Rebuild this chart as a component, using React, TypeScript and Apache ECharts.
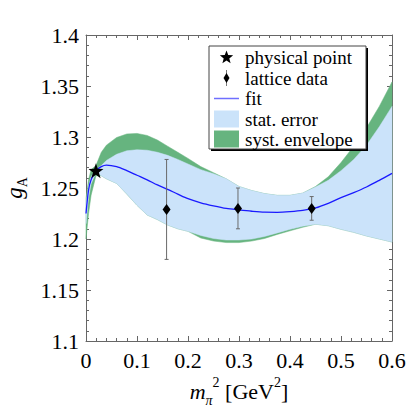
import React, { useEffect, useRef } from 'react';
import * as echarts from 'echarts';

// x grid (m_pi^2 in GeV^2) for the fitted curve and bands
const xs = [0, 0.005, 0.01, 0.0195, 0.03, 0.04, 0.06, 0.08, 0.1, 0.12, 0.14, 0.16, 0.18, 0.2, 0.225, 0.25, 0.275, 0.3, 0.325, 0.35, 0.375, 0.4, 0.425, 0.45, 0.475, 0.5, 0.525, 0.55, 0.575, 0.6];
const fit = [1.225, 1.248, 1.258, 1.267, 1.271, 1.2725, 1.271, 1.267, 1.2625, 1.258, 1.253, 1.2487, 1.244, 1.2395, 1.2355, 1.2325, 1.23, 1.2285, 1.2272, 1.2263, 1.2262, 1.2268, 1.228, 1.2305, 1.235, 1.2405, 1.2455, 1.251, 1.2575, 1.2644];
const statUpper = [1.235, 1.252, 1.261, 1.268, 1.272, 1.277, 1.283, 1.2865, 1.2875, 1.287, 1.285, 1.282, 1.278, 1.2735, 1.268, 1.264, 1.259, 1.2515, 1.2475, 1.2445, 1.2428, 1.2428, 1.245, 1.251, 1.2575, 1.267, 1.278, 1.292, 1.31, 1.33];
const statLower = [1.215, 1.24, 1.254, 1.265, 1.262, 1.259, 1.2545, 1.244, 1.233, 1.2235, 1.219, 1.2137, 1.21, 1.2075, 1.2035, 1.2005, 1.199, 1.199, 1.2, 1.2025, 1.206, 1.2095, 1.2125, 1.2145, 1.213, 1.2095, 1.2065, 1.203, 1.2, 1.197];
const systUpper = [1.24, 1.258, 1.268, 1.272, 1.285, 1.292, 1.2995, 1.303, 1.3035, 1.3015, 1.297, 1.291, 1.285, 1.279, 1.271, 1.265, 1.259, 1.2515, 1.2475, 1.2445, 1.2428, 1.2428, 1.245, 1.2515, 1.261, 1.275, 1.291, 1.309, 1.33, 1.354];
const systLower = [1.2, 1.225, 1.243, 1.262, 1.262, 1.259, 1.2545, 1.244, 1.233, 1.2235, 1.219, 1.2137, 1.21, 1.2075, 1.201, 1.198, 1.1965, 1.1965, 1.198, 1.2005, 1.2045, 1.208, 1.2115, 1.2145, 1.213, 1.2095, 1.2065, 1.203, 1.2, 1.197];

// lattice data points
const latticeX = [0.158, 0.298, 0.4425];
const latticeY = [1.229, 1.23, 1.23];
const latticeErr = [0.049, 0.02, 0.0116];

// physical point
const physX = [0.0195];
const physY = [1.267];

const legendLabels = ['physical point', 'lattice data', 'fit', 'stat. error', 'syst. envelope'];

const FONT = 'Liberation Serif';
const STAT = '#cbe3fa';
const SYST = '#66b47f';
const FIT = '#1a1aff';
const AX = '#666';
const STAR = 'path://M50,0 L61.8,35.1 L98.9,35.5 L69.1,57.6 L80.2,93.1 L50,71.6 L19.8,93.1 L30.9,57.6 L1.1,35.5 L38.2,35.1 Z';

function starPoints(cx: number, cy: number, r: number) {
  const pts: number[][] = [];
  for (let i = 0; i < 10; i++) {
    const rr = i % 2 === 0 ? r : r * 0.42;
    const a = -Math.PI / 2 + (i * Math.PI) / 5;
    pts.push([cx + rr * Math.cos(a), cy + rr * Math.sin(a)]);
  }
  return pts;
}

function bandSeries(lower: number[], upper: number[], color: string, z: number) {
  return {
    type: 'custom', z, silent: true,
    data: xs.map((x, i) => [x, lower[i], upper[i]]),
    encode: { x: 0, y: [1, 2] },
    renderItem: (params: any, api: any) => {
      if (params.dataIndex !== 0) return null;
      const top = xs.map((x, i) => api.coord([x, upper[i]]));
      const bot = xs.map((x, i) => api.coord([x, lower[i]])).reverse();
      return {
        type: 'polygon',
        shape: { points: top.concat(bot) },
        style: { fill: color, stroke: color, lineWidth: 0.5 },
      };
    },
  };
}

export default function App() {
  const ref = useRef<HTMLDivElement>(null);
  useEffect(() => {
    if (!ref.current) return;
    const chart = echarts.init(ref.current, null, { renderer: 'svg' });
    const pair = (ys: number[]) => xs.map((x, i) => [x, ys[i]]);
    const axisCommon = {
      axisLine: { show: true, onZero: false, lineStyle: { color: AX, width: 1 } },
      axisTick: { show: true, inside: true, length: 5, lineStyle: { color: AX } },
      minorTick: { show: true, splitNumber: 5, length: 3, lineStyle: { color: AX } },
      splitLine: { show: false },
    };
    const labelStyle = { color: '#000', fontFamily: FONT, fontSize: 22 };
    const lx = 214, ly = [57.5, 78, 98.5, 119, 139.5];
    const graphics: any[] = [
      { type: 'rect', z: 100, shape: { x: 211, y: 48, width: 157, height: 103 }, style: { fill: '#000' } },
      { type: 'rect', z: 101, shape: { x: 209, y: 46, width: 157, height: 103 }, style: { fill: '#fff', stroke: '#444', lineWidth: 1 } },
      { type: 'polygon', z: 102, shape: { points: starPoints(226.5, ly[0], 7) }, style: { fill: '#000' } },
      { type: 'line', z: 102, shape: { x1: 226.5, y1: ly[1] - 8, x2: 226.5, y2: ly[1] + 8 }, style: { stroke: '#777', lineWidth: 1 } },
      { type: 'polygon', z: 103, shape: { points: [[226.5, ly[1] - 5], [229.5, ly[1]], [226.5, ly[1] + 5], [223.5, ly[1]]] }, style: { fill: '#000' } },
      { type: 'line', z: 102, shape: { x1: lx, y1: ly[2], x2: lx + 25, y2: ly[2] }, style: { stroke: '#6f6fff', lineWidth: 1.5 } },
      { type: 'rect', z: 102, shape: { x: lx, y: 110.5, width: 25, height: 17 }, style: { fill: STAT } },
      { type: 'rect', z: 102, shape: { x: lx, y: 130.5, width: 25, height: 17 }, style: { fill: SYST } },
    ];
    legendLabels.forEach((t, i) => {
      graphics.push({
        type: 'text', z: 104, x: 245, y: ly[i],
        style: { text: t, fontFamily: FONT, fontSize: 19, fill: '#000', align: 'left', verticalAlign: 'middle' },
      });
    });

    chart.setOption({
      animation: false,
      grid: { left: 86, right: 28, top: 35, bottom: 79, containLabel: false, outerBoundsMode: 'none' },
      xAxis: [
        {
          type: 'value', min: 0, max: 0.6, interval: 0.1, position: 'bottom', ...axisCommon,
          axisLabel: { ...labelStyle, margin: 8 },
          name: '{i|m}{sub|π}{sup|2} [GeV{sup|2}]',
          nameLocation: 'middle', nameGap: 28,
          nameTextStyle: {
            color: '#000', fontFamily: FONT, fontSize: 22, lineHeight: 32,
            rich: {
              i: { fontFamily: FONT, fontStyle: 'italic', fontSize: 22, color: '#000', lineHeight: 32 },
              sub: { fontFamily: FONT, fontStyle: 'italic', fontSize: 14, color: '#000', verticalAlign: 'bottom', lineHeight: 28 },
              sup: { fontFamily: FONT, fontSize: 14, color: '#000', verticalAlign: 'top', lineHeight: 24 },
            },
          },
        },
        {
          type: 'value', min: 0, max: 0.6, interval: 0.1, position: 'top', ...axisCommon,
          axisLabel: { show: false },
        },
      ],
      yAxis: [
        {
          type: 'value', min: 1.1, max: 1.4, interval: 0.05, position: 'left', ...axisCommon,
          axisLabel: { ...labelStyle, margin: 7 },
          name: '{i|g}{sub|A}',
          nameLocation: 'middle', nameGap: 48, nameRotate: 90,
          nameTextStyle: {
            color: '#000', fontFamily: FONT, fontSize: 23, lineHeight: 30,
            rich: {
              i: { fontFamily: FONT, fontStyle: 'italic', fontSize: 23, color: '#000', lineHeight: 30 },
              sub: { fontFamily: FONT, fontSize: 14, color: '#000', verticalAlign: 'bottom', lineHeight: 26 },
            },
          },
        },
        {
          type: 'value', min: 1.1, max: 1.4, interval: 0.05, position: 'right', ...axisCommon,
          axisLabel: { show: false },
        },
      ],
      graphic: graphics,
      series: [
        bandSeries(systLower, systUpper, SYST, 1),
        bandSeries(statLower, statUpper, STAT, 2),
        { type: 'line', data: pair(fit), symbol: 'none', smooth: 0.3, lineStyle: { color: FIT, width: 1.3 }, z: 3 },
        {
          type: 'custom', z: 4,
          data: latticeX.map((x, i) => [x, latticeY[i], latticeErr[i]]),
          encode: { x: 0, y: 1 },
          renderItem: (params: any, api: any) => {
            const x = api.value(0), y = api.value(1), e = api.value(2);
            const t = api.coord([x, y + e]);
            const b = api.coord([x, y - e]);
            const st = { stroke: '#6a6a6a', lineWidth: 1 };
            return {
              type: 'group',
              children: [
                { type: 'line', shape: { x1: t[0], y1: t[1], x2: b[0], y2: b[1] }, style: st },
                { type: 'line', shape: { x1: t[0] - 2, y1: t[1], x2: t[0] + 2, y2: t[1] }, style: st },
                { type: 'line', shape: { x1: b[0] - 2, y1: b[1], x2: b[0] + 2, y2: b[1] }, style: st },
              ],
            };
          },
        },
        { type: 'scatter', z: 5, data: latticeX.map((x, i) => [x, latticeY[i]]), symbol: 'diamond', symbolSize: [8, 11], itemStyle: { color: '#000', opacity: 1 } },
        { type: 'scatter', z: 6, data: physX.map((x, i) => [x, physY[i]]), symbol: STAR, symbolSize: 15, itemStyle: { color: '#000', opacity: 1 } },
      ],
    });
    return () => chart.dispose();
  }, []);
  return <div ref={ref} style={{ position: 'fixed', left: 0, top: 0, width: 420, height: 420, background: '#fff' }} />;
}
